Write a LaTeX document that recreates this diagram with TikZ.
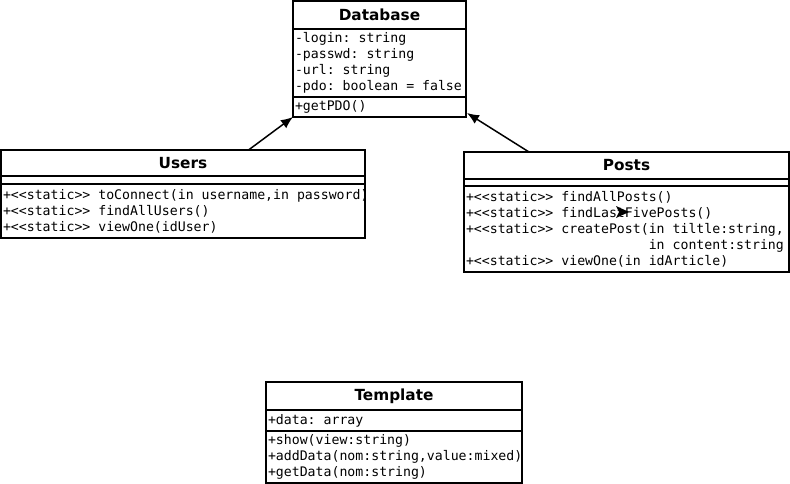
\documentclass[tikz,border=0pt]{standalone}
\usepackage{fontspec}
\setmainfont{DejaVu Sans}
\setmonofont{DejaVu Sans Mono}
\usetikzlibrary{calc,arrows.meta,positioning}
\newcommand{\fontmembre}{\fontsize{13.2}{16}\selectfont\ttfamily}
\newcommand{\espacemembre}{\frenchspacing\setlength{\spaceskip}{0.602em}\setlength{\xspaceskip}{0.602em}}

\begin{document}
\begin{tikzpicture}[x=1pt,y=-1pt]
%
% Styles
%
\tikzset{every node/.style={inner sep=0pt, outer sep=0pt}};%
\tikzset{titre/.style={draw, line width=1.3pt, font=\fontsize{15.3}{18}\selectfont\bfseries, anchor=north west}};%
\tikzset{membres/.style={draw, line width=1.3pt, font=\fontmembre, align=left, inner xsep=2pt, inner ysep=2pt, execute at begin node=\espacemembre}};%
\tikzset{fleche/.style={-{Latex[length=12pt,width=10pt]}, line width=1.5pt}};%

\useasboundingbox (0,0) rectangle (790,484);%

%
% Database
%
\node[titre, minimum width=173pt, minimum height=28pt] (dbTitre) at (293,1) {Database};%
\node[membres, text width=169pt, minimum height=68pt, below=0pt of dbTitre] (dbAttr) {-login: string\\-passwd: string\\-url: string\\\mbox{-pdo: boolean = false}};%
\node[membres, text width=169pt, minimum height=20pt, below=0pt of dbAttr] (dbMeth) {+getPDO()};%

%
% Users
%
\node[titre, minimum width=364pt, minimum height=26pt] (usersTitre) at (1,150) {Users};%
\node[membres, text width=360pt, minimum height=8pt, below=0pt of usersTitre] (usersAttr) {};%
\node[membres, text width=360pt, minimum height=54pt, below=0pt of usersAttr] (usersMeth) {\mbox{+<<static>> toConnect(in username,in password)}\\+<<static>> findAllUsers()\\+<<static>> viewOne(idUser)};%

%
% Posts
%
\node[titre, minimum width=325pt, minimum height=27pt] (postsTitre) at (464,152) {Posts};%
\node[membres, text width=321pt, minimum height=7pt, below=0pt of postsTitre] (postsAttr) {};%
\node[membres, text width=321pt, minimum height=86pt, below=0pt of postsAttr] (postsMeth) {+<<static>> findAllPosts()\\+<<static>> findLastFivePosts()\\\mbox{+<<static>> createPost(in tiltle:string,}\\\mbox{\phantom{+<<static>> createPost(}in content:string}\\+<<static>> viewOne(in idArticle)};%

%
% Template
%
\node[titre, minimum width=256pt, minimum height=28pt] (tplTitre) at (266,382) {Template};%
\node[membres, text width=252pt, minimum height=21pt, below=0pt of tplTitre] (tplAttr) {+data: array};%
\node[membres, text width=252pt, minimum height=52pt, below=0pt of tplAttr] (tplMeth) {+show(view:string)\\\mbox{+addData(nom:string,value:mixed)}\\+getData(nom:string)};%

%
% Arrows
%
\draw[fleche] ($(usersTitre.north west)!0.68!(usersTitre.north east)$) -- (dbMeth.south west);%
\draw[fleche] ($(postsTitre.north west)!0.2!(postsTitre.north east)$) -- ([xshift=1pt,yshift=4pt]dbMeth.south east);%
\fill (616,206) -- (629,212) -- (616,218) -- (619,212) -- cycle;%
\end{tikzpicture}
\end{document}
